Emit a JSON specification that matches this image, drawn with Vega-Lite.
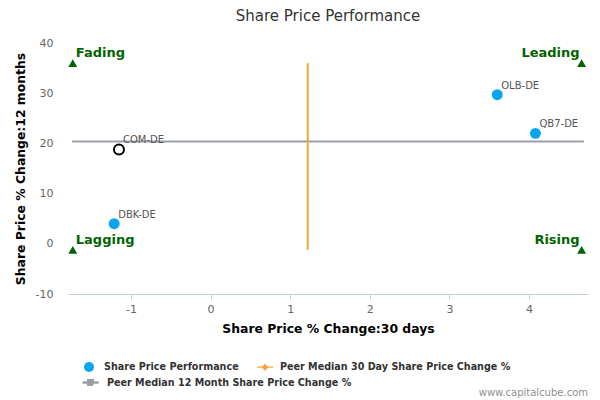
{
  "$schema": "https://vega.github.io/schema/vega-lite/v6.json",
  "autosize": "none",
  "width": 520,
  "height": 251,
  "padding": {"left": 68, "top": 43, "right": 12, "bottom": 106},
  "background": "white",
  "title": {
    "text": "Share Price Performance",
    "fontSize": 15,
    "fontWeight": "normal",
    "color": "#333333",
    "offset": 13,
    "anchor": "middle"
  },
  "datasets": {
    "companies": [
      {"ticker": "COM-DE", "d30": -1.15, "m12": 18.8, "series": "Share Price Performance", "subject": true},
      {"ticker": "DBK-DE", "d30": -1.21, "m12": 4.0, "series": "Share Price Performance", "subject": false},
      {"ticker": "OLB-DE", "d30": 3.6, "m12": 29.7, "series": "Share Price Performance", "subject": false},
      {"ticker": "QB7-DE", "d30": 4.08, "m12": 22.0, "series": "Share Price Performance", "subject": false}
    ],
    "median30": [
      {"series": "Peer Median 30 Day Share Price Change %", "x": 1.22, "y": -1.2, "y2": 36}
    ],
    "median12": [
      {"series": "Peer Median 12 Month Share Price Change %", "x": -1.74, "x2": 4.69, "y": 20.4}
    ],
    "quadrants": [
      {"label": "Fading", "x": -1.73, "y": 36, "side": "left"},
      {"label": "Leading", "x": 4.66, "y": 36, "side": "right"},
      {"label": "Lagging", "x": -1.73, "y": -1.2, "side": "left"},
      {"label": "Rising", "x": 4.66, "y": -1.2, "side": "right"}
    ],
    "note": [{"text": "www.capitalcube.com", "x": 4.74, "y": -29.8}]
  },
  "layer": [
    {
      "data": {"name": "median12"},
      "mark": {"type": "rule", "strokeWidth": 2},
      "encoding": {
        "x": {
          "field": "x",
          "type": "quantitative",
          "scale": {"domain": [-1.79, 4.74], "nice": false, "zero": false},
          "axis": {
            "values": [-1, 0, 1, 2, 3, 4],
            "labelExpr": "'' + datum.value",
            "title": "Share Price % Change:30 days"
          }
        },
        "x2": {"field": "x2"},
        "y": {
          "field": "y",
          "type": "quantitative",
          "scale": {"domain": [-10, 40], "nice": false, "zero": false},
          "axis": {
            "values": [-10, 0, 10, 20, 30, 40],
            "labelExpr": "'' + datum.value",
            "title": "Share Price % Change:12 months"
          }
        },
        "color": {"field": "series", "type": "nominal"},
        "strokeDash": {
          "field": "series",
          "type": "nominal",
          "scale": {"range": [[1, 0]]},
          "legend": {
            "legendX": 16,
            "legendY": 333,
            "symbolType": "M-1.6,0H1.6 M-0.45,-0.45H0.45V0.45H-0.45Z",
            "symbolStrokeColor": "#9a9ea8",
            "symbolFillColor": "#9a9ea8",
            "symbolStrokeWidth": 2.5
          }
        }
      }
    },
    {
      "data": {"name": "median30"},
      "mark": {"type": "rule", "strokeWidth": 2},
      "encoding": {
        "x": {"field": "x", "type": "quantitative"},
        "y": {"field": "y", "type": "quantitative"},
        "y2": {"field": "y2"},
        "color": {"field": "series", "type": "nominal"}
      }
    },
    {
      "data": {"name": "quadrants"},
      "mark": {"type": "point", "shape": "triangle-up", "filled": true, "size": 80, "color": "#006400", "opacity": 1},
      "encoding": {
        "x": {"field": "x", "type": "quantitative"},
        "y": {"field": "y", "type": "quantitative"}
      }
    },
    {
      "data": {"name": "quadrants"},
      "transform": [{"filter": "datum.side === 'left'"}],
      "mark": {"type": "text", "align": "left", "dx": 3, "dy": -10, "fontSize": 13, "fontWeight": "bold", "color": "#006400"},
      "encoding": {
        "x": {"field": "x", "type": "quantitative"},
        "y": {"field": "y", "type": "quantitative"},
        "text": {"field": "label"}
      }
    },
    {
      "data": {"name": "quadrants"},
      "transform": [{"filter": "datum.side === 'right'"}],
      "mark": {"type": "text", "align": "right", "dx": -2, "dy": -10, "fontSize": 13, "fontWeight": "bold", "color": "#006400"},
      "encoding": {
        "x": {"field": "x", "type": "quantitative"},
        "y": {"field": "y", "type": "quantitative"},
        "text": {"field": "label"}
      }
    },
    {
      "data": {"name": "companies"},
      "transform": [{"filter": "!datum.subject"}],
      "mark": {"type": "point", "filled": true, "size": 120, "opacity": 1},
      "encoding": {
        "x": {"field": "d30", "type": "quantitative"},
        "y": {"field": "m12", "type": "quantitative"},
        "color": {
          "field": "series",
          "type": "nominal",
          "scale": {
            "domain": ["Share Price Performance", "Peer Median 30 Day Share Price Change %", "Peer Median 12 Month Share Price Change %"],
            "range": ["#0ba5ef", "#f7a535", "#9a9ea8"]
          },
          "legend": {
            "values": ["Share Price Performance", "Peer Median 30 Day Share Price Change %"],
            "legendX": 16,
            "legendY": 319
          }
        },
        "shape": {
          "field": "series",
          "type": "nominal",
          "scale": {
            "domain": ["Share Price Performance", "Peer Median 30 Day Share Price Change %", "Peer Median 12 Month Share Price Change %"],
            "range": [
              "circle",
              "M-1.6,-0.13H1.6V0.13H-1.6Z M0,-0.7L0.7,0L0,0.7L-0.7,0Z",
              "M-1.6,-0.13H1.6V0.13H-1.6Z M-0.6,-0.6H0.6V0.6H-0.6Z"
            ]
          },
          "legend": {
            "values": ["Share Price Performance", "Peer Median 30 Day Share Price Change %"],
            "legendX": 16,
            "legendY": 319
          }
        }
      }
    },
    {
      "data": {"name": "companies"},
      "transform": [{"filter": "datum.subject"}],
      "mark": {"type": "point", "filled": false, "size": 100, "stroke": "#000000", "strokeWidth": 2, "opacity": 1},
      "encoding": {
        "x": {"field": "d30", "type": "quantitative"},
        "y": {"field": "m12", "type": "quantitative"}
      }
    },
    {
      "data": {"name": "companies"},
      "mark": {"type": "text", "align": "left", "dx": 4, "dy": -9, "fontSize": 10, "color": "#555555"},
      "encoding": {
        "x": {"field": "d30", "type": "quantitative"},
        "y": {"field": "m12", "type": "quantitative"},
        "text": {"field": "ticker"}
      }
    },
    {
      "data": {"name": "note"},
      "mark": {"type": "text", "align": "right", "fontSize": 10, "color": "#909090"},
      "encoding": {
        "x": {"field": "x", "type": "quantitative"},
        "y": {"field": "y", "type": "quantitative"},
        "text": {"field": "text"}
      }
    }
  ],
  "config": {
    "font": "DejaVu Sans",
    "view": {"stroke": null},
    "axisX": {
      "grid": false,
      "domainColor": "#C0D0E0",
      "tickColor": "#C0D0E0",
      "tickSize": 5,
      "labelColor": "#666666",
      "labelFontSize": 11,
      "labelPadding": 4,
      "titleFontSize": 12.4,
      "titleFontWeight": "bold",
      "titleColor": "#000000",
      "titlePadding": 8
    },
    "axisY": {
      "grid": false,
      "domain": false,
      "ticks": false,
      "labelColor": "#666666",
      "labelFontSize": 11,
      "labelPadding": 15,
      "titleFontSize": 12.4,
      "titleFontWeight": "bold",
      "titleColor": "#000000",
      "titlePadding": 8
    },
    "legend": {
      "orient": "none",
      "direction": "horizontal",
      "title": null,
      "columnPadding": 18,
      "symbolSize": 100,
      "symbolStrokeWidth": 0,
      "labelFontSize": 9.6,
      "labelFontWeight": "bold",
      "labelColor": "#333333",
      "labelOffset": 10,
      "labelLimit": 400
    }
  }
}
